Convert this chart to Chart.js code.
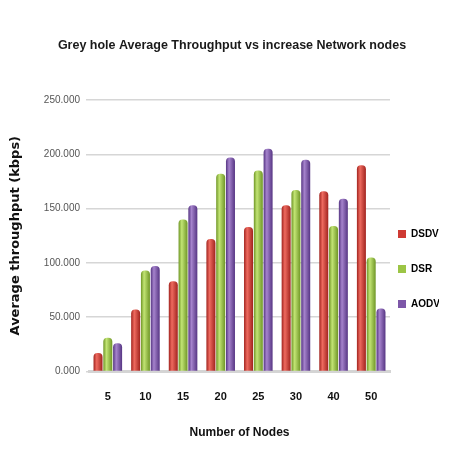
<!DOCTYPE html>
<html lang="en">
<head>
    <meta charset="UTF-8">
    <title>Grey hole Average Throughput</title>
    <script src="https://cdn.jsdelivr.net/npm/chart.js"></script>
    <style>
        html, body {
            margin: 0;
            padding: 0;
            background: #fff;
        }
        .chart-container {
            position: relative;
            width: 464px;
            height: 470px;
        }
    </style>
</head>
<body>
    <div class="chart-container">
        <canvas id="barChart"></canvas>
    </div>

    <script>
        // values (kbps)
        const nodes = ["5", "10", "15", "20", "25", "30", "40", "50"];
        const dsdv = [17000, 57000, 83000, 122000, 133000, 153000, 166000, 190000];
        const dsr = [31000, 93000, 140000, 182000, 185000, 167000, 134000, 105000];
        const aodv = [26000, 97000, 153000, 197000, 205000, 195000, 159000, 58000];
        const yTicks = [0, 50000, 100000, 150000, 200000, 250000];

        const sans = "'Liberation Sans', Arial, sans-serif";

        // horizontal gradient so the bars look a bit like cylinders
        function cylinder(base, light, dark) {
            return function (ctx) {
                const el = ctx.element;
                if (!el || !isFinite(el.x) || !isFinite(el.width)) return base;
                const g = ctx.chart.ctx.createLinearGradient(el.x - el.width / 2, 0, el.x + el.width / 2, 0);
                g.addColorStop(0, dark);
                g.addColorStop(0.35, light);
                g.addColorStop(1, dark);
                return g;
            };
        }

        // move the legend a little to the left/down, like the original
        const nudgeLegend = {
            id: "nudgeLegend",
            afterLayout(chart) {
                const lg = chart.legend;
                const dx = 17;
                lg.left -= dx;
                lg.right -= dx;
                const h = lg.bottom - lg.top;
                lg.top = chart.chartArea.top + 104;
                lg.bottom = lg.top + h;
            }
        };

        const chart = new Chart(document.getElementById("barChart").getContext("2d"), {
            type: "bar",
            data: {
                labels: nodes,
                datasets: [
                    { label: "DSDV", data: dsdv, backgroundColor: cylinder("#cf3a33", "#ee6a5f", "#a1231e") },
                    { label: "DSR", data: dsr, backgroundColor: cylinder("#9cc545", "#c2e474", "#6f9626") },
                    { label: "AODV", data: aodv, backgroundColor: cylinder("#7d57a8", "#a583cc", "#563583") }
                ]
            },
            options: {
                responsive: true,
                maintainAspectRatio: false,
                animation: false,
                events: [],
                layout: { padding: { left: 8, right: 8, top: 32, bottom: 30 } },
                datasets: {
                    bar: {
                        categoryPercentage: 0.78,
                        barPercentage: 0.92,
                        borderRadius: { topLeft: 4, topRight: 4 },
                        borderSkipped: "bottom"
                    }
                },
                scales: {
                    x: {
                        grid: { display: false },
                        border: { display: true, color: "#d4d4d4", width: 3 },
                        ticks: {
                            color: "#111",
                            padding: 11,
                            font: { family: sans, size: 11, weight: "bold" }
                        },
                        title: {
                            display: true,
                            text: "Number of Nodes",
                            color: "#111",
                            padding: { top: 11, bottom: 0 },
                            font: { family: sans, size: 12, weight: "bold" }
                        }
                    },
                    y: {
                        min: 0,
                        max: 250000,
                        afterFit(scale) { scale.width = 81; },
                        afterBuildTicks(scale) { scale.ticks = yTicks.map(v => ({ value: v })); },
                        grid: { color: "#d6d6d6", lineWidth: 1.5, tickLength: 3 },
                        border: { display: false },
                        ticks: {
                            color: "#555",
                            padding: 6,
                            font: { family: sans, size: 10 },
                            callback: v => (v / 1000).toFixed(3)
                        },
                        title: {
                            display: true,
                            text: "Average throughput (kbps)",
                            color: "#111",
                            padding: { top: 0, bottom: 14 },
                            font: { family: "'DejaVu Sans', sans-serif", size: 13, weight: "bold" }
                        }
                    }
                },
                plugins: {
                    title: {
                        display: true,
                        text: "Grey hole Average Throughput vs increase Network nodes",
                        color: "#1a1a1a",
                        padding: { top: 6, bottom: 47 },
                        font: { family: sans, size: 12.5, weight: "bold" }
                    },
                    legend: {
                        position: "right",
                        align: "start",
                        maxWidth: 66,
                        labels: {
                            color: "#111",
                            boxWidth: 8,
                            boxHeight: 8,
                            padding: 25,
                            font: { family: sans, size: 10, weight: "bold" },
                            generateLabels(chart) {
                                const base = ["#cf3a33", "#9cc545", "#7d57a8"];
                                return chart.data.datasets.map((ds, i) => ({
                                    text: ds.label,
                                    fillStyle: base[i],
                                    strokeStyle: base[i],
                                    lineWidth: 0,
                                    datasetIndex: i
                                }));
                            }
                        }
                    },
                    tooltip: { enabled: false }
                }
            },
            plugins: [nudgeLegend]
        });

        // second pass so the gradients know where the bars are
        chart.update("none");
    </script>
</body>
</html>
